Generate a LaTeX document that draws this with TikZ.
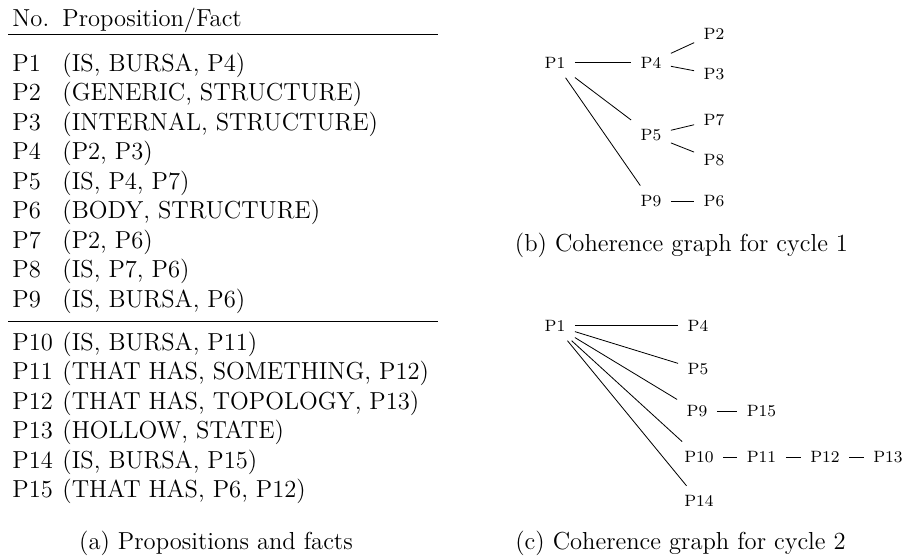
\documentclass[tikz,border=0pt]{standalone}
\begin{document}
\begin{tikzpicture}[x=0.488pt,y=-0.488pt,
  tab/.style={anchor=base west, inner sep=0pt, font=\fontsize{12}{14.5}\selectfont},
  capt/.style={anchor=base, inner sep=0pt, font=\fontsize{12}{14.5}\selectfont},
  gn/.style={inner sep=4.5pt, font=\fontsize{8}{9.5}\selectfont},
  edge/.style={line width=0.4pt},
  hrule/.style={line width=0.5pt}]
\useasboundingbox (0,0) rectangle (907,556);
% ---------- (a) table ----------
\node[tab] (hno) at (12,26) {No.};
\node[tab] (hpf) at (62,26) {Proposition/Fact};
\draw[hrule] (8,34.3) -- (438,34.3);
\node[tab] (n1) at (12,71.5)    {P1};  \node[tab] (f1) at (62,71.5)    {(IS, BURSA, P4)};
\node[tab] (n2) at (12,100.95)  {P2};  \node[tab] (f2) at (62,100.95)  {(GENERIC, STRUCTURE)};
\node[tab] (n3) at (12,130.4)   {P3};  \node[tab] (f3) at (62,130.4)   {(INTERNAL, STRUCTURE)};
\node[tab] (n4) at (12,159.85)  {P4};  \node[tab] (f4) at (62,159.85)  {(P2, P3)};
\node[tab] (n5) at (12,189.3)   {P5};  \node[tab] (f5) at (62,189.3)   {(IS, P4, P7)};
\node[tab] (n6) at (12,218.75)  {P6};  \node[tab] (f6) at (62,218.75)  {(BODY, STRUCTURE)};
\node[tab] (n7) at (12,248.2)   {P7};  \node[tab] (f7) at (62,248.2)   {(P2, P6)};
\node[tab] (n8) at (12,277.65)  {P8};  \node[tab] (f8) at (62,277.65)  {(IS, P7, P6)};
\node[tab] (n9) at (12,307.1)   {P9};  \node[tab] (f9) at (62,307.1)   {(IS, BURSA, P6)};
\draw[hrule] (8,321.7) -- (438,321.7);
\node[tab] (n10) at (12,350)    {P10}; \node[tab] (f10) at (62,350)    {(IS, BURSA, P11)};
\node[tab] (n11) at (12,379.5)  {P11}; \node[tab] (f11) at (62,379.5)  {(THAT HAS, SOMETHING, P12)};
\node[tab] (n12) at (12,409)    {P12}; \node[tab] (f12) at (62,409)    {(THAT HAS, TOPOLOGY, P13)};
\node[tab] (n13) at (12,438.5)  {P13}; \node[tab] (f13) at (62,438.5)  {(HOLLOW, STATE)};
\node[tab] (n14) at (12,468)    {P14}; \node[tab] (f14) at (62,468)    {(IS, BURSA, P15)};
\node[tab] (n15) at (12,497.5)  {P15}; \node[tab] (f15) at (62,497.5)  {(THAT HAS, P6, P12)};
\node[capt] (capa) at (216,549) {(a) Propositions and facts};
% ---------- (b) cycle 1 ----------
\node[gn] (b1) at (555,62.5)  {P1};
\node[gn] (b4) at (651,62.5)  {P4};
\node[gn] (b2) at (714,33.5)  {P2};
\node[gn] (b3) at (714,74.5)  {P3};
\node[gn] (b5) at (651,135) {P5};
\node[gn] (b7) at (714,120) {P7};
\node[gn] (b8) at (714,160) {P8};
\node[gn] (b9) at (651,201) {P9};
\node[gn] (b6) at (714,201) {P6};
\draw[edge] (b1) -- (b4);
\draw[edge] (b4) -- (b2);
\draw[edge] (b4) -- (b3);
\draw[edge] (b1) -- (b5);
\draw[edge] (b5) -- (b7);
\draw[edge] (b5) -- (b8);
\draw[edge] (b1) -- (b9);
\draw[edge] (b9) -- (b6);
\node[capt] (capb) at (681.5,251) {(b) Coherence graph for cycle 1};
% ---------- (c) cycle 2 ----------
\node[gn] (c1)  at (555,325.5)  {P1};
\node[gn] (c4)  at (698,325.5)  {P4};
\node[gn] (c5)  at (698,369.5)  {P5};
\node[gn] (c9)  at (697,411.5)  {P9};
\node[gn] (c15) at (761.5,411.5) {P15};
\node[gn] (c10) at (699,457)    {P10};
\node[gn] (c11) at (761.5,457)  {P11};
\node[gn] (c12) at (825,457)    {P12};
\node[gn] (c13) at (888,457)    {P13};
\node[gn] (c14) at (699,501)    {P14};
\draw[edge] (c1) -- (c4);
\draw[edge] (c1) -- (c5);
\draw[edge] (c1) -- (c9);
\draw[edge] (c1) -- (c10);
\draw[edge] (c1) -- (c14);
\draw[edge] (c9) -- (c15);
\draw[edge] (c10) -- (c11);
\draw[edge] (c11) -- (c12);
\draw[edge] (c12) -- (c13);
\node[capt] (capc) at (680.5,549) {(c) Coherence graph for cycle 2};
\end{tikzpicture}
\end{document}
